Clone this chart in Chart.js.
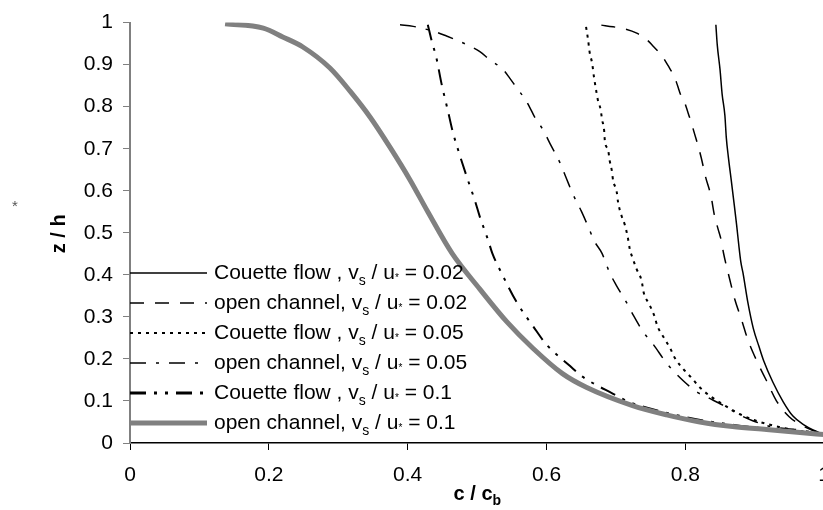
<!DOCTYPE html>
<html>
<head>
<meta charset="utf-8">
<script src="https://cdn.jsdelivr.net/npm/chart.js@4"></script>
<style>
  html, body { margin: 0; padding: 0; background: #fff; overflow: hidden; }
  #wrap { width: 843px; height: 510px; position: relative; }
</style>
</head>
<body>
<div id="wrap"><canvas id="chart"></canvas></div>
<script>
// concentration profiles c/cb (x) against height z/h (y)
const couette002C = [0.844, 0.846, 0.850, 0.853, 0.857, 0.859, 0.862, 0.866, 0.870, 0.874, 0.877, 0.880, 0.883, 0.890, 0.898, 0.906, 0.913, 0.926, 0.941, 0.955, 0.972, 0.984, 1.0];
const couette002Z = [0.995, 0.947, 0.888, 0.830, 0.779, 0.727, 0.680, 0.627, 0.573, 0.517, 0.471, 0.430, 0.405, 0.335, 0.272, 0.230, 0.195, 0.145, 0.098, 0.064, 0.042, 0.031, 0.02];

const open002C = [0.679, 0.696, 0.713, 0.730, 0.744, 0.753, 0.768, 0.775, 0.785, 0.789, 0.794, 0.799, 0.804, 0.809, 0.813, 0.818, 0.823, 0.829, 0.837, 0.842, 0.847, 0.852, 0.855, 0.864, 0.871, 0.881, 0.890, 0.903, 0.917, 0.931, 0.950, 0.975, 1.0];
const open002Z = [0.994, 0.990, 0.985, 0.975, 0.960, 0.945, 0.917, 0.898, 0.868, 0.849, 0.825, 0.810, 0.785, 0.760, 0.737, 0.709, 0.678, 0.634, 0.587, 0.541, 0.510, 0.480, 0.452, 0.389, 0.343, 0.293, 0.246, 0.195, 0.148, 0.101, 0.062, 0.036, 0.02];

const couette005C = [0.657, 0.660, 0.662, 0.666, 0.668, 0.671, 0.674, 0.678, 0.680, 0.683, 0.684, 0.689, 0.691, 0.694, 0.696, 0.701, 0.703, 0.708, 0.713, 0.717, 0.720, 0.724, 0.730, 0.737, 0.740, 0.748, 0.755, 0.760, 0.769, 0.778, 0.785, 0.797, 0.809, 0.821, 0.838, 0.856, 0.878, 0.900, 0.930, 0.960, 1.0];
const couette005Z = [0.990, 0.958, 0.931, 0.901, 0.875, 0.844, 0.816, 0.793, 0.770, 0.744, 0.720, 0.695, 0.672, 0.649, 0.624, 0.599, 0.574, 0.541, 0.518, 0.490, 0.461, 0.440, 0.413, 0.386, 0.358, 0.330, 0.304, 0.277, 0.251, 0.226, 0.202, 0.176, 0.155, 0.132, 0.109, 0.090, 0.069, 0.054, 0.040, 0.030, 0.02];

const open005C = [0.389, 0.408, 0.422, 0.440, 0.456, 0.471, 0.487, 0.504, 0.518, 0.537, 0.547, 0.557, 0.569, 0.576, 0.583, 0.595, 0.607, 0.619, 0.629, 0.638, 0.650, 0.660, 0.669, 0.680, 0.691, 0.701, 0.715, 0.725, 0.739, 0.754, 0.773, 0.797, 0.818, 0.835, 0.854, 0.878, 0.897, 0.926, 0.946, 0.969, 1.0];
const open005Z = [0.995, 0.991, 0.986, 0.978, 0.968, 0.958, 0.946, 0.931, 0.912, 0.889, 0.868, 0.845, 0.818, 0.798, 0.775, 0.745, 0.706, 0.668, 0.628, 0.592, 0.552, 0.515, 0.480, 0.451, 0.405, 0.374, 0.335, 0.304, 0.265, 0.234, 0.190, 0.148, 0.120, 0.106, 0.090, 0.067, 0.053, 0.038, 0.034, 0.030, 0.02];

const couette01C = [0.429, 0.435, 0.441, 0.449, 0.458, 0.465, 0.475, 0.485, 0.497, 0.504, 0.516, 0.522, 0.535, 0.557, 0.581, 0.600, 0.634, 0.650, 0.696, 0.720, 0.749, 0.814, 0.870, 0.930, 1.0];
const couette01Z = [0.995, 0.954, 0.919, 0.853, 0.790, 0.740, 0.685, 0.634, 0.576, 0.538, 0.482, 0.451, 0.405, 0.335, 0.277, 0.234, 0.183, 0.160, 0.117, 0.097, 0.082, 0.057, 0.043, 0.032, 0.02];

const open01C = [0.137, 0.192, 0.220, 0.249, 0.288, 0.317, 0.346, 0.374, 0.403, 0.429, 0.464, 0.504, 0.543, 0.580, 0.623, 0.658, 0.724, 0.773, 0.821, 0.868, 0.917, 0.965, 1.0];
const open01Z = [0.997, 0.987, 0.966, 0.942, 0.892, 0.837, 0.775, 0.705, 0.627, 0.550, 0.451, 0.366, 0.288, 0.226, 0.165, 0.132, 0.089, 0.067, 0.050, 0.039, 0.032, 0.025, 0.02];

const seriesNames = ['Couette flow', 'open channel', 'Couette flow', 'open channel', 'Couette flow', 'open channel'];
const seriesRatios = ['0.02', '0.02', '0.05', '0.05', '0.1', '0.1'];

const FONT = "'Liberation Sans', Arial, sans-serif";

function pts(cs, zs){ return cs.map((c, i) => ({ x: c, y: zs[i] })); }

const styles = [
  { color: '#000', width: 1.5, dash: [] },
  { color: '#000', width: 1.5, dash: [14, 11] },
  { color: '#000', width: 2,   dash: [3, 5] },
  { color: '#000', width: 1.5, dash: [16, 10, 3, 10] },
  { color: '#000', width: 2,   dash: [16, 8, 3, 8, 3, 8] },
  { color: '#808080', width: 5, dash: [] }
];

const curves = [
  pts(couette002C, couette002Z),
  pts(open002C, open002Z),
  pts(couette005C, couette005Z),
  pts(open005C, open005Z),
  pts(couette01C, couette01Z),
  pts(open01C, open01Z)
];

const datasets = curves.map((d, i) => ({
  label: seriesNames[i] + ', vs / u* = ' + seriesRatios[i],
  data: d,
  showLine: true,
  borderColor: styles[i].color,
  borderWidth: styles[i].width,
  borderDash: styles[i].dash,
  pointRadius: 0,
  cubicInterpolationMode: 'monotone',
  fill: false
}));
// draw the grey profile first so the black ones sit on top
datasets.reverse();

// text pieces with a smaller, lowered font for subscripts
function drawParts(ctx, parts, x, y){
  parts.forEach(p => {
    ctx.font = (p.bold ? 'bold ' : '') + p.size + 'px ' + FONT;
    ctx.fillText(p.t, x, y + (p.dy || 0));
    x += ctx.measureText(p.t).width;
  });
  return x;
}

const legendAndTitles = {
  id: 'legendAndTitles',
  afterDatasetsDraw(chart){
    const ctx = chart.ctx;
    const a = chart.chartArea;
    ctx.save();
    ctx.fillStyle = '#000';
    ctx.textAlign = 'left';
    ctx.textBaseline = 'alphabetic';

    // legend inside the plot, bottom left
    for (let i = 0; i < 6; i++) {
      const y = a.bottom - 170 + i * 30;
      const st = styles[i];
      ctx.beginPath();
      ctx.strokeStyle = st.color;
      ctx.lineWidth = i === 4 ? 3 : st.width;
      ctx.setLineDash(st.dash);
      ctx.moveTo(a.left, y);
      ctx.lineTo(a.left + 77, y);
      ctx.stroke();
      ctx.setLineDash([]);
      const name = seriesNames[i] + (seriesNames[i] === 'Couette flow' ? ' , v' : ', v');
      drawParts(ctx, [
        { t: name, size: 21 },
        { t: 's', size: 14, dy: 6 },
        { t: ' / u', size: 21 },
        { t: '*', size: 10, dy: 2 },
        { t: ' = ' + seriesRatios[i], size: 21 }
      ], a.left + 84, y + 6);
    }

    // x axis title
    const cx = (a.left + a.right) / 2;
    ctx.font = 'bold 20px ' + FONT;
    const w = ctx.measureText('c / c').width + 10;
    drawParts(ctx, [
      { t: 'c / c', size: 20, bold: true },
      { t: 'b', size: 14, bold: true, dy: 5 }
    ], cx - w / 2 + 1, 500);

    // y axis title
    ctx.save();
    ctx.translate(65, (a.top + a.bottom) / 2 + 1);
    ctx.rotate(-Math.PI / 2);
    ctx.textAlign = 'center';
    ctx.font = 'bold 20px ' + FONT;
    ctx.fillText('z / h', 0, 0);
    ctx.restore();

    ctx.font = '15px ' + FONT;
    ctx.fillStyle = '#555';
    ctx.fillText('*', 12, 211);
    ctx.restore();
  }
};

const tickLabel = v => String(Math.round(v * 10) / 10);

new Chart(document.getElementById('chart'), {
  type: 'scatter',
  data: { datasets },
  options: {
    responsive: true,
    maintainAspectRatio: false,
    animation: false,
    layout: { padding: { top: 15, left: 0, right: 0, bottom: 0 } },
    plugins: { legend: { display: false }, tooltip: { enabled: false } },
    scales: {
      x: {
        type: 'linear', min: 0, max: 1,
        ticks: { stepSize: 0.2, color: '#000', padding: 13, maxRotation: 0, callback: tickLabel, font: { family: FONT, size: 21 } },
        grid: { drawOnChartArea: false, drawTicks: true, tickLength: 7, color: '#000', lineWidth: 1 },
        border: { display: true, color: '#000', width: 1.5 },
        afterFit: s => { s.height = 67; }
      },
      y: {
        type: 'linear', min: 0, max: 1,
        ticks: { stepSize: 0.1, color: '#000', padding: 10, callback: tickLabel, font: { family: FONT, size: 21 } },
        grid: { drawOnChartArea: false, drawTicks: true, tickLength: 7, color: '#808080', lineWidth: 1 },
        border: { display: true, color: '#808080', width: 2 },
        afterFit: s => { s.width = 130; }
      }
    }
  },
  plugins: [legendAndTitles]
});
</script>
</body>
</html>
